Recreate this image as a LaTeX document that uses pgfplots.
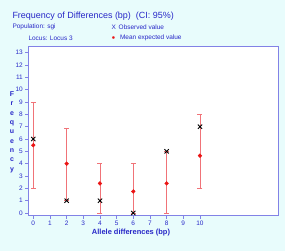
\documentclass[border=0pt]{standalone}
\usepackage{pgfplots}
\pgfplotsset{compat=1.18}
\usepackage{pgfplotstable}
\usepackage{fontspec}
\setmainfont{Liberation Sans}
\definecolor{txtblue}{RGB}{40,40,200}
\definecolor{frameblue}{RGB}{130,130,230}
\definecolor{bgcyan}{RGB}{232,252,252}
\definecolor{barpink}{RGB}{240,115,120}
\definecolor{dotred}{RGB}{235,20,20}
\pgfdeclarelayer{bg}
\pgfsetlayers{bg,main}
\pgfplotstableread{
x mean lo hi obs
0 5.5 2 9 6
2 4.0 1 6.9 1
4 2.4 0 4 1
6 1.75 0 4 0
8 2.4 0 5 5
10 4.65 2 8 7
}\datatab
\begin{document}
\begin{tikzpicture}[x=1bp,y=1bp]
\begin{axis}[
  scale only axis, width=250bp, height=169bp,
  xmin=-0.3, xmax=14.7, ymin=-0.2, ymax=13.5,
  xtick={0,...,10}, ytick={0,...,13},
  axis background/.style={fill=white},
  axis line style={frameblue, line width=0.8pt},
  tick style={frameblue, line width=0.6pt},
  tick align=outside, major tick length=3bp,
  xtick pos=bottom, ytick pos=left,
  ticklabel style={txtblue, font=\fontsize{6.5}{7}\selectfont},
  /pgf/number format/assume math mode=true,
  xticklabel style={yshift=1bp},
  yticklabel style={xshift=1bp},
  clip=false,
]
\coordinate (O) at (rel axis cs:0,0);
\addplot[draw=none, mark=none, forget plot,
  error bars/.cd, y dir=both, y explicit,
  error bar style={barpink, line width=0.8pt},
  error mark options={rotate=90, mark size=2.5bp, barpink, line width=0.8pt}]
  table[x=x, y=mean,
    y error plus expr=\thisrow{hi}-\thisrow{mean},
    y error minus expr=\thisrow{mean}-\thisrow{lo}] {\datatab};
\addplot[only marks, mark=*, mark size=1.9bp, dotred] table[x=x, y=mean] {\datatab};
\addplot[only marks, mark=x, mark size=3bp, black, line width=0.9pt] table[x=x, y=obs] {\datatab};
\end{axis}
\begin{scope}[shift={(O)}, shift={(-28.3,-35.5)}]
\begin{pgfonlayer}{bg}
\fill[bgcyan] (0,0) rectangle (285,251);
\end{pgfonlayer}
\path[use as bounding box] (0,0) rectangle (285,251);
\node[anchor=west, txtblue, font=\fontsize{9}{10}\selectfont] at (9,235) {Frequency of Differences (bp)\ \ (CI: 95\%)};
\node[anchor=west, txtblue, font=\fontsize{6.5}{7}\selectfont] at (9,224) {Population: sgi};
\node[anchor=west, txtblue, font=\fontsize{6.5}{7}\selectfont] at (25,213) {Locus: Locus 3};
\node[anchor=west, txtblue, font=\fontsize{6.5}{7}\selectfont] at (108,224) {X\ \,Observed value};
\node[anchor=west, txtblue, font=\fontsize{6.5}{7}\selectfont] at (108,213) {\textcolor{dotred}{$\bullet$}\ \ \,Mean expected value};
\node[txtblue, font=\bfseries\fontsize{7}{9.4}\selectfont, align=center, anchor=north] at (12,163) {F\\r\\e\\q\\u\\e\\n\\c\\y};
\node[txtblue, font=\bfseries\fontsize{7.5}{8}\selectfont] at (131,18) {Allele differences (bp)};
\end{scope}
\end{tikzpicture}
\end{document}
